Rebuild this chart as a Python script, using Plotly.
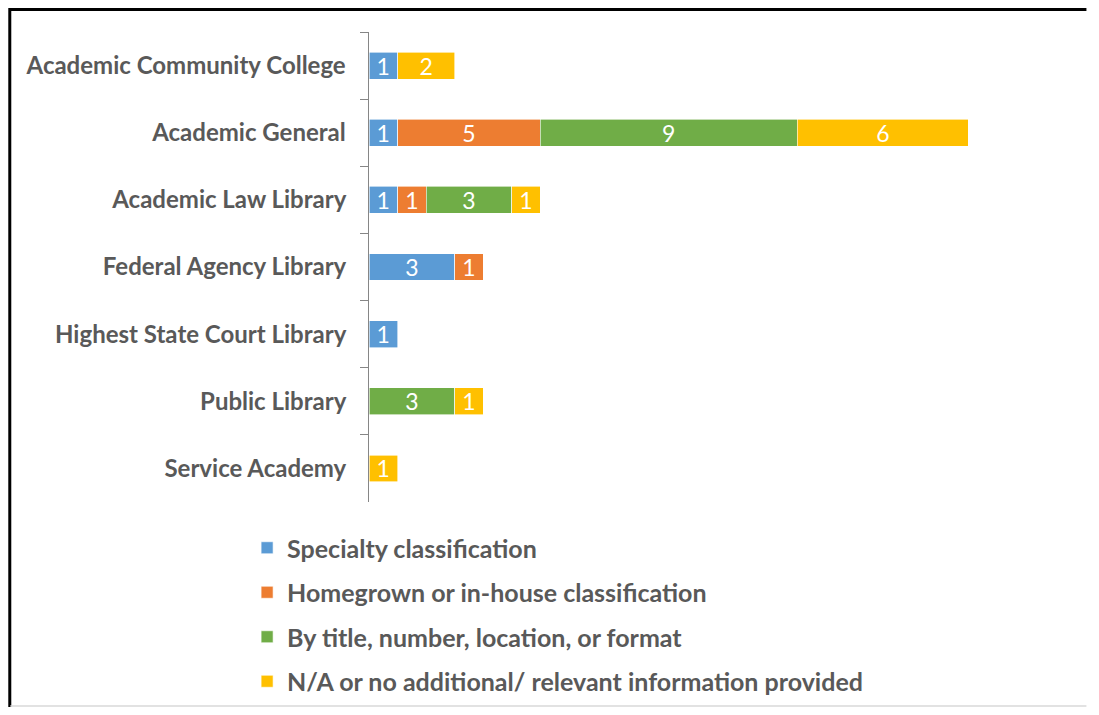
import plotly.graph_objects as go

categories = [
    "Academic Community College",
    "Academic General",
    "Academic Law Library",
    "Federal Agency Library",
    "Highest State Court Library",
    "Public Library",
    "Service Academy",
]
specialty = [1, 1, 1, 3, 1, None, None]
homegrown = [None, 5, 1, 1, None, None, None]
by_title = [None, 9, 3, None, None, 3, None]
not_available = [2, 6, 1, None, None, 1, 1]

series = [
    ("Specialty classification", specialty, "#5B9BD5"),
    ("Homegrown or in-house classification", homegrown, "#ED7D31"),
    ("By title, number, location, or format", by_title, "#70AD47"),
    ("N/A or no additional/ relevant information provided", not_available, "#FFC000"),
]

FONT = "Lato"
GREY = "#595959"

fig = go.Figure()
for i, (name, vals, col) in enumerate(series):
    fig.add_bar(
        name=name,
        y=categories,
        x=vals,
        orientation="h",
        marker=dict(color=col, line=dict(color="white", width=0.6)),
        text=vals,
        textposition="inside",
        insidetextanchor="middle",
        textangle=0,
        textfont=dict(color="white", size=23, family=FONT),
        legendgroup=f"g{i}",
    )

# page body has an 8px margin, so the figure is kept inside the window
# and coords below are figure px; plot area: x 361..989.5, y 24..494
def px_x(p):
    return (p - 361) / 628.5

def px_y(p):
    return (494 - p) / 470

W, H = 1080, 699

# left + top frame as one open path (paper units)
frame = "M {:.4f},{:.4f} L {:.4f},{:.4f} L {:.4f},{:.4f}".format(
    px_x(1.5), px_y(H), px_x(1.5), px_y(1.5), px_x(W - 1), px_y(1.5)
)

fig.update_layout(
    width=W,
    height=H,
    barmode="stack",
    bargap=0.6,
    uniformtext=dict(minsize=23, mode="show"),
    paper_bgcolor="white",
    plot_bgcolor="white",
    margin=dict(l=361, r=W - 989.5, t=24, b=H - 494, autoexpand=False),
    font=dict(family=FONT, color=GREY, size=20),
    xaxis=dict(range=[0, 22], visible=False, fixedrange=True),
    yaxis=dict(
        autorange="reversed",
        tickson="boundaries",
        ticks="outside",
        ticklen=8,
        tickcolor="#868686",
        showline=True,
        linecolor="#868686",
        linewidth=1,
        showgrid=False,
        ticksuffix="   ",
        tickfont=dict(family=FONT, size=24, color=GREY, weight="bold"),
    ),
    legend=dict(
        x=px_x(239),
        y=px_y(517),
        xanchor="left",
        yanchor="top",
        traceorder="grouped",
        tracegroupgap=9,
        bgcolor="rgba(0,0,0,0)",
        font=dict(family=FONT, size=25, color=GREY, weight="bold"),
        itemwidth=30,
    ),
    shapes=[
        dict(type="path", xref="paper", yref="paper", path=frame,
             line=dict(color="black", width=3)),
        dict(type="line", xref="paper", yref="paper",
             x0=px_x(2), x1=px_x(W - 1), y0=px_y(H - 1), y1=px_y(H - 1),
             line=dict(color="#D9D9D9", width=1.5)),
    ],
)

fig.write_html("out.html")
